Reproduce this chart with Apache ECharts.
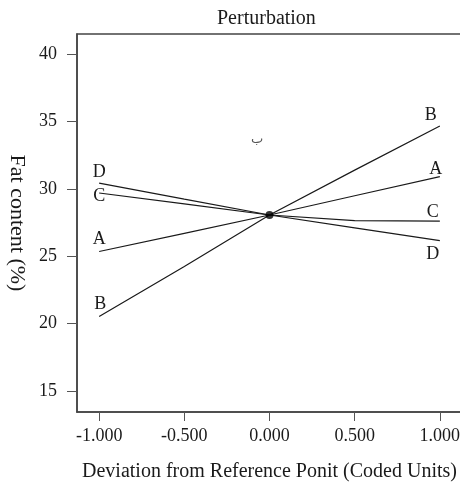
<!DOCTYPE html>
<html>
<head>
<meta charset="utf-8">
<script src="https://cdn.jsdelivr.net/npm/echarts@6/dist/echarts.min.js"></script>
<style>
  html, body { margin: 0; padding: 0; background: #fff; }
  #chart { width: 460px; height: 486px; }
</style>
</head>
<body>
<div id="chart"></div>
<script>
// coded deviation from the reference point
const xCoded = [-1, -0.5, 0, 0.5, 1];
// fat content (%) per factor
const seriesA = [25.36, 26.7, 28.07, 29.5, 30.91];
const seriesB = [20.54, 24.25, 28.07, 31.4, 34.67];
const seriesC = [29.7, 28.9, 28.07, 27.65, 27.62];
const seriesD = [30.44, 29.25, 28.07, 27.12, 26.17];
const refPoint = [0, 28.07];
const xTicks = [-1, -0.5, 0, 0.5, 1];
const yTicks = [15, 20, 25, 30, 35, 40];

const font = "Liberation Serif";
const ink = "#1a1a1a";

// label placement at both ends of each line
const endLabels = {
  A: [{ position: "top", offset: [0, 1] }, { position: "top", offset: [-4, 6] }],
  B: [{ position: "top", offset: [1, 1] }, { position: "top", offset: [-9, 3] }],
  C: [{ position: "inside", offset: [0, 3] }, { position: "top", offset: [-7, 5] }],
  D: [{ position: "top", offset: [0, 3] }, { position: "bottom", offset: [-7, 0] }]
};

function makeLine(name, values) {
  const data = values.map((v, i) => {
    const item = { value: [xCoded[i], v] };
    if (i === 0 || i === values.length - 1) {
      const lab = endLabels[name][i === 0 ? 0 : 1];
      item.label = {
        show: true,
        formatter: name,
        position: lab.position,
        offset: lab.offset,
        distance: 4,
        fontFamily: font,
        fontSize: 18,
        color: ink
      };
    }
    return item;
  });
  return {
    name: name,
    type: "line",
    data: data,
    showSymbol: true,
    symbol: "circle",
    symbolSize: 1,
    itemStyle: { color: "rgba(0,0,0,0)" },
    lineStyle: { color: ink, width: 1.2 },
    silent: true,
    z: 2
  };
}

const chart = echarts.init(document.getElementById("chart"), null, { renderer: "canvas" });

chart.setOption({
  animation: false,
  backgroundColor: "#fff",
  title: {
    text: "Perturbation",
    left: 217,
    top: 9,
    padding: 0,
    textStyle: { fontFamily: font, fontSize: 20, fontWeight: "normal", color: ink }
  },
  grid: {
    left: 77,
    right: -2,
    top: 34,
    bottom: 74,
    outerBoundsMode: "none",
    show: true,
    borderColor: "#444",
    borderWidth: 1.5
  },
  xAxis: {
    type: "value",
    min: -1.13,
    max: 1.13,
    name: "Deviation from Reference Ponit (Coded Units)",
    nameLocation: "middle",
    nameGap: 50,
    nameTextStyle: { fontFamily: font, fontSize: 20, color: ink },
    axisLine: { show: true, onZero: false, lineStyle: { color: "#444", width: 1.5 } },
    axisTick: { show: true, length: 9, customValues: xTicks, lineStyle: { color: "#555", width: 1 } },
    axisLabel: {
      customValues: xTicks,
      margin: 15,
      fontFamily: font,
      fontSize: 18,
      color: ink,
      formatter: v => v.toFixed(3)
    },
    splitLine: { show: false }
  },
  yAxis: {
    type: "value",
    min: 13.45,
    max: 41.5,
    name: "Fat content (%)",
    nameLocation: "middle",
    nameRotate: -90,
    nameGap: 43,
    nameTextStyle: { fontFamily: font, fontSize: 22, color: ink },
    axisLine: { show: true, onZero: false, lineStyle: { color: "#444", width: 1.5 } },
    axisTick: { show: true, length: 10, customValues: yTicks, lineStyle: { color: "#555", width: 1 } },
    axisLabel: {
      customValues: yTicks,
      margin: 20,
      fontFamily: font,
      fontSize: 18,
      color: ink
    },
    splitLine: { show: false }
  },
  graphic: [
    {
      type: "text",
      left: 251,
      top: 133,
      style: { text: "ب", fontSize: 13, fill: "#555", fontFamily: "DejaVu Sans" }
    }
  ],
  series: [
    makeLine("A", seriesA),
    makeLine("B", seriesB),
    makeLine("C", seriesC),
    makeLine("D", seriesD),
    {
      type: "scatter",
      data: [refPoint],
      symbolSize: 8,
      itemStyle: { color: "#000" },
      silent: true,
      z: 3
    }
  ]
});
</script>
</body>
</html>
